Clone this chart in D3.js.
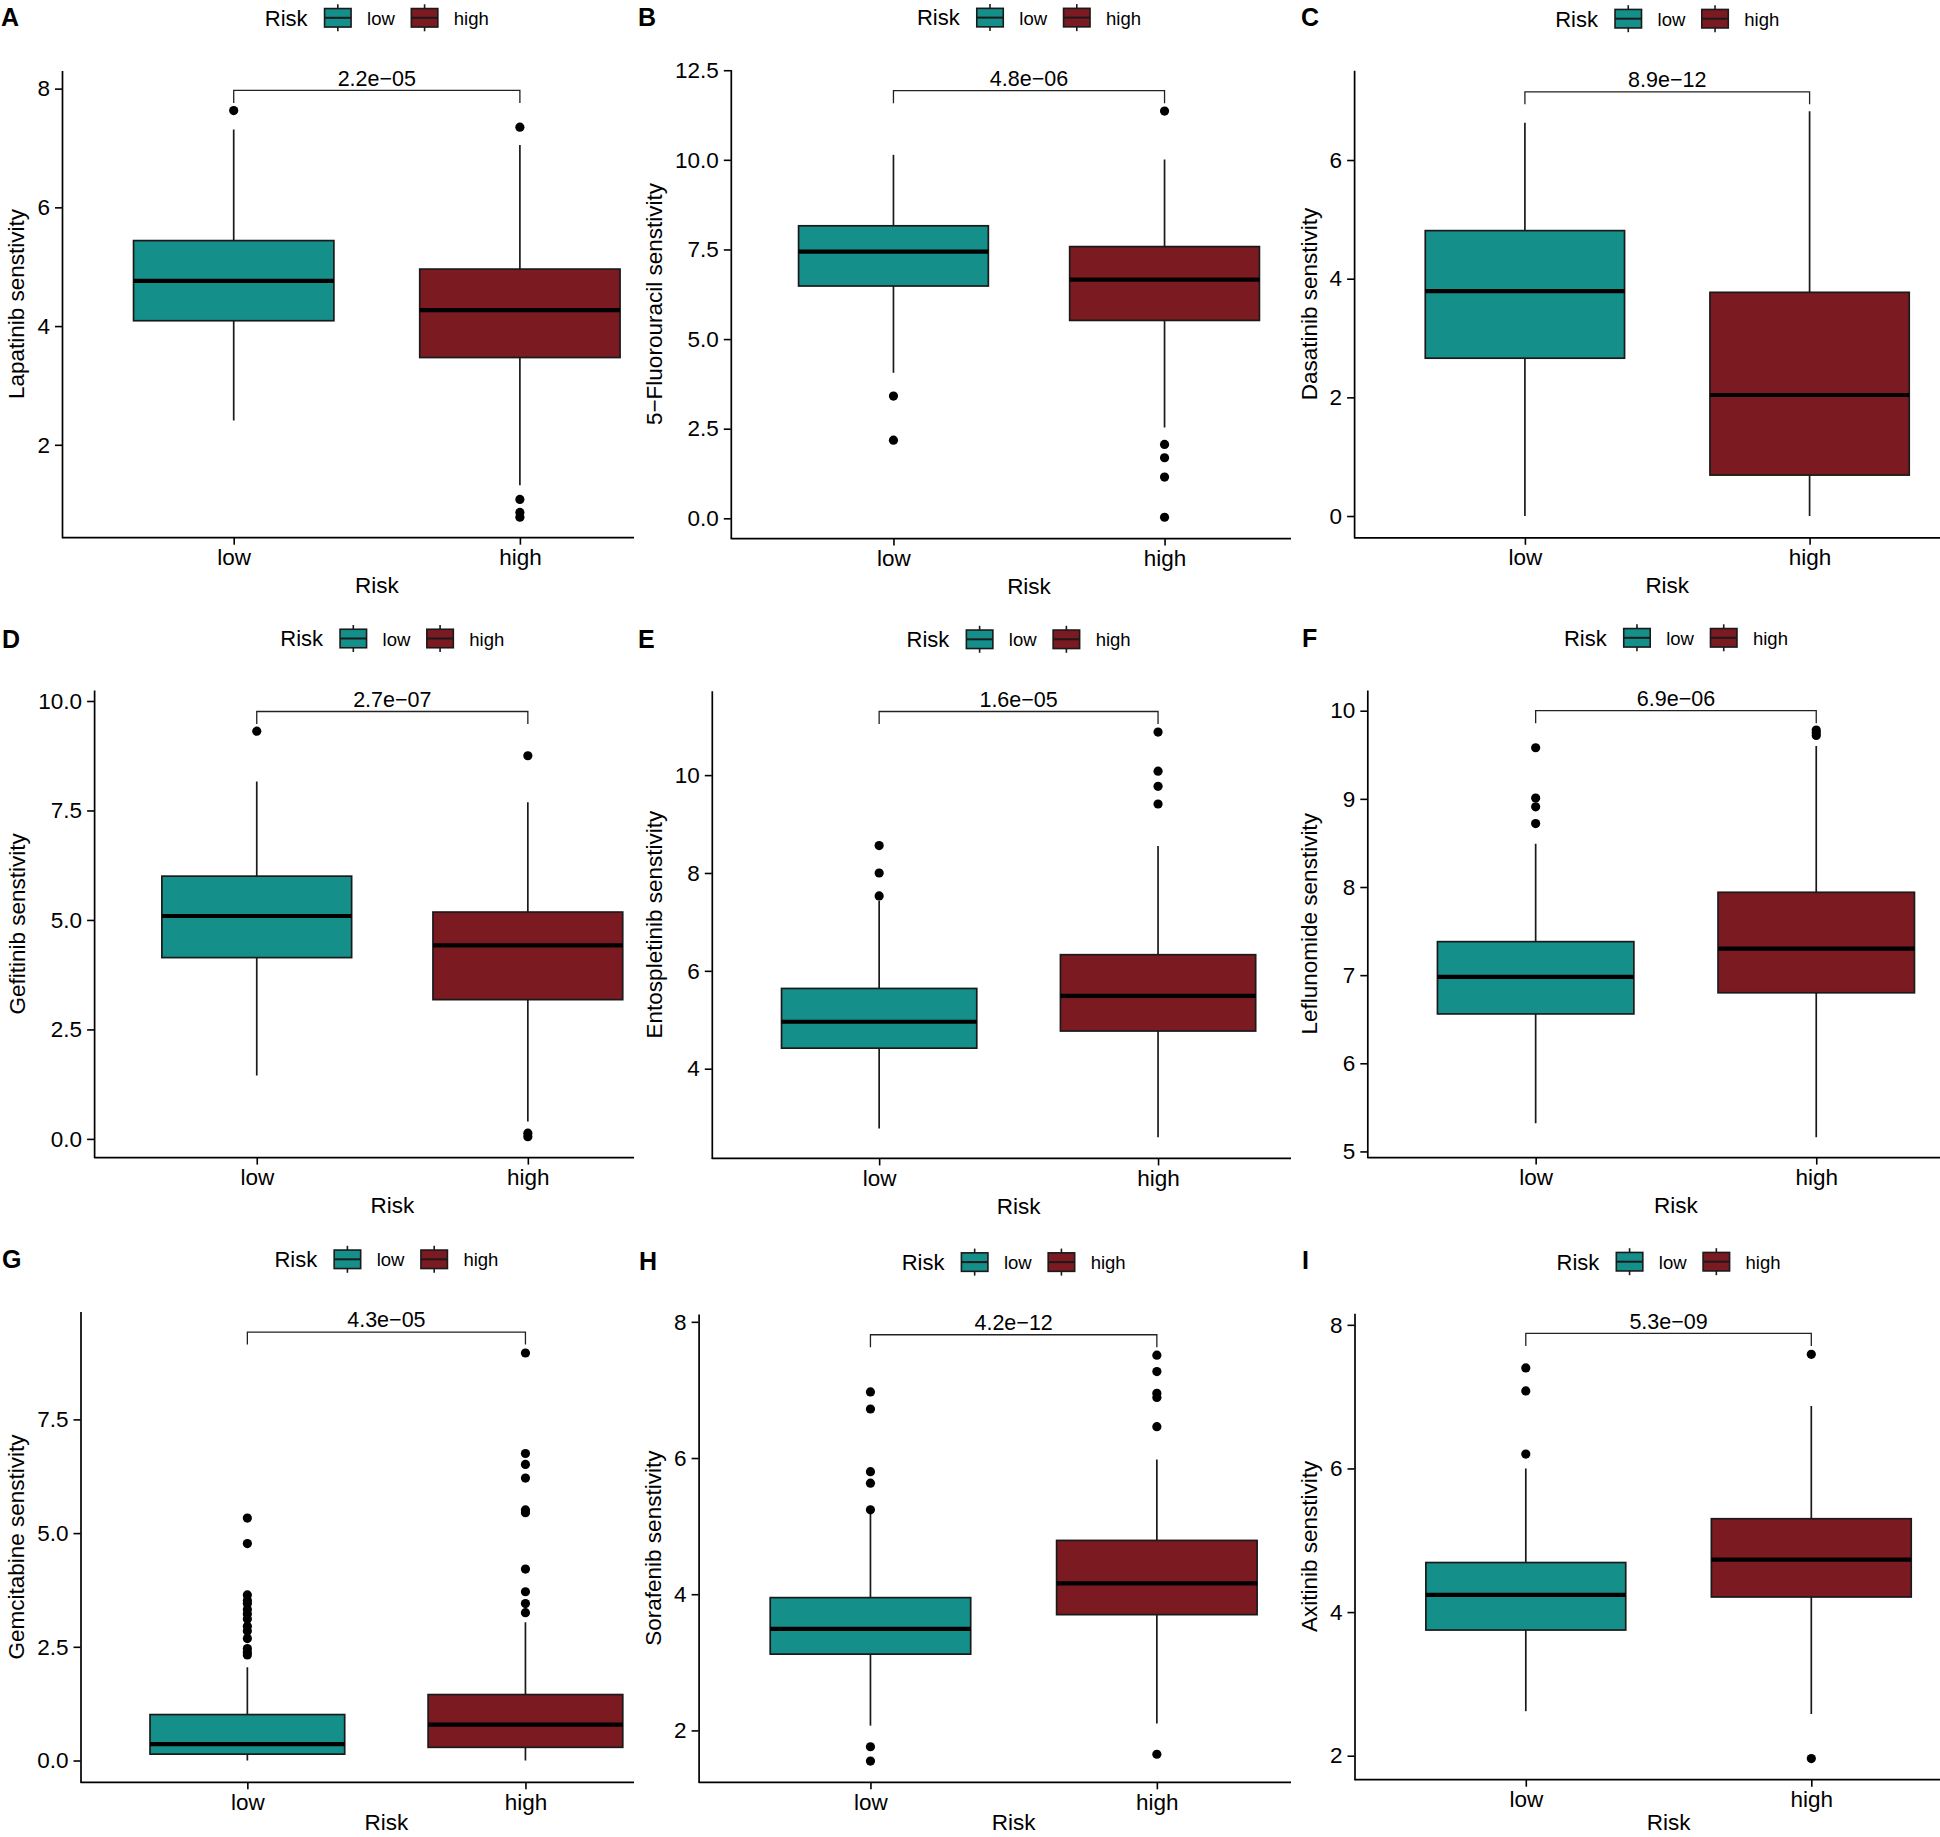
<!DOCTYPE html>
<html>
<head>
<meta charset="utf-8">
<script src="https://cdn.jsdelivr.net/npm/d3@7"></script>
<style>
  html, body { margin: 0; padding: 0; background: #fff; }
  svg { display: block; }
  text { font-family: "Liberation Sans", Arial, Helvetica, sans-serif; fill: #000; }
</style>
</head>
<body>
<svg id="chart" width="1940" height="1837"></svg>
<script>
// ---------------- DATA ----------------
const panelLetters = ["A", "B", "C", "D", "E", "F", "G", "H", "I"];
const drugs = ["Lapatinib", "5\u2212Fluorouracil", "Dasatinib", "Gefitinib", "Entospletinib",
               "Leflunomide", "Gemcitabine", "Sorafenib", "Axitinib"];
const pValues = ["2.2e\u221205", "4.8e\u221206", "8.9e\u221212", "2.7e\u221207", "1.6e\u221205",
                 "6.9e\u221206", "4.3e\u221205", "4.2e\u221212", "5.3e\u221209"];
const groups = ["low", "high"];
const groupColors = ["#148F8A", "#7C1A22"];

// [lower whisker, Q1, median, Q3, upper whisker]
const lowBox = [
  [2.41, 4.09, 4.76, 5.44, 7.31],
  [4.06, 6.48, 7.44, 8.16, 10.14],
  [0.00, 2.66, 3.79, 4.81, 6.63],
  [1.45, 4.14, 5.09, 6.00, 8.16],
  [2.78, 4.42, 4.96, 5.64, 7.43],
  [5.32, 6.56, 6.98, 7.38, 8.49],
  [0.00, 0.14, 0.36, 1.01, 2.05],
  [2.07, 3.12, 3.49, 3.95, 5.20],
  [2.62, 3.75, 4.24, 4.69, 6.00]
];
const highBox = [
  [1.32, 3.47, 4.27, 4.96, 7.05],
  [2.53, 5.52, 6.66, 7.58, 10.01],
  [0.00, 0.69, 2.04, 3.77, 6.82],
  [0.40, 3.18, 4.42, 5.18, 7.69],
  [2.60, 4.77, 5.49, 6.33, 8.55],
  [5.16, 6.80, 7.30, 7.94, 9.60],
  [0.00, 0.29, 0.79, 1.45, 3.04],
  [2.10, 3.70, 4.16, 4.79, 5.98],
  [2.58, 4.21, 4.73, 5.30, 6.87]
];
const lowOutliers = [
  [7.63],
  [3.41, 2.18],
  [],
  [9.31],
  [8.56, 8.00, 7.53],
  [9.58, 9.01, 8.91, 8.72],
  [5.33, 4.77, 3.64, 3.52, 3.45, 3.32, 3.22, 3.11, 2.95, 2.85, 2.68, 2.46, 2.38, 2.32],
  [6.97, 6.72, 5.80, 5.63, 5.24, 1.76, 1.55],
  [7.40, 7.08, 6.20]
];
const highOutliers = [
  [7.35, 1.08, 0.86, 0.78],
  [11.36, 2.06, 1.69, 1.15, 0.03],
  [],
  [8.75, 0.13, 0.05],
  [10.88, 10.08, 9.77, 9.41],
  [9.78, 9.75, 9.72],
  [8.96, 6.75, 6.51, 6.21, 5.51, 5.45, 4.21, 3.71, 3.45, 3.25],
  [7.51, 7.27, 6.95, 6.89, 6.46, 1.65],
  [7.59, 1.96]
];
const bracketValues = [7.97, 11.93, 7.15, 9.76, 11.30, 10.00, 9.42, 7.81, 7.88];
const yDomains = [
  [0.435, 8.307], [-0.566, 12.52], [-0.367, 7.512],
  [-0.427, 10.251], [2.167, 11.723], [4.93, 10.235],
  [-0.479, 9.870], [1.238, 8.115], [1.666, 8.162]
];
const yTicks = [
  [2, 4, 6, 8], [0, 2.5, 5, 7.5, 10, 12.5], [0, 2, 4, 6],
  [0, 2.5, 5, 7.5, 10], [4, 6, 8, 10], [5, 6, 7, 8, 9, 10],
  [0, 2.5, 5, 7.5], [2, 4, 6, 8], [2, 4, 6, 8]
];
const yTickLabels = [
  ["2", "4", "6", "8"], ["0.0", "2.5", "5.0", "7.5", "10.0", "12.5"], ["0", "2", "4", "6"],
  ["0.0", "2.5", "5.0", "7.5", "10.0"], ["4", "6", "8", "10"], ["5", "6", "7", "8", "9", "10"],
  ["0.0", "2.5", "5.0", "7.5"], ["2", "4", "6", "8"], ["2", "4", "6", "8"]
];

// ---------------- LAYOUT (pixels) ----------------
const layout = [
  {left: 62.0,   width: 629.6, cut: 634,  top: 70.4,   bottom: 537.7,  legendY: 17.8,   letterX: 1,    letterY: 26},
  {left: 730.8,  width: 596.4, cut: 1291, top: 69.5,   bottom: 538.6,  legendY: 17.6,   letterX: 638,  letterY: 26},
  {left: 1354.1, width: 626.3, cut: 1940, top: 70.3,   bottom: 537.8,  legendY: 18.7,   letterX: 1301, letterY: 26},
  {left: 94.1,   width: 596.4, cut: 634,  top: 690.0,  bottom: 1157.6, legendY: 638.5,  letterX: 2,    letterY: 648},
  {left: 711.8,  width: 613.6, cut: 1291, top: 690.8,  bottom: 1158.4, legendY: 639.3,  letterX: 638,  letterY: 648},
  {left: 1367.3, width: 617.3, cut: 1940, top: 690.0,  bottom: 1157.6, legendY: 637.8,  letterX: 1302, letterY: 647},
  {left: 80.5,   width: 611.8, cut: 634,  top: 1311.6, bottom: 1782.3, legendY: 1259.3, letterX: 2,    letterY: 1268},
  {left: 698.6,  width: 630.1, cut: 1291, top: 1314.0, bottom: 1782.3, legendY: 1262.1, letterX: 639,  letterY: 1270},
  {left: 1354.5, width: 628.1, cut: 1940, top: 1313.2, bottom: 1779.7, legendY: 1261.7, letterX: 1302, letterY: 1269}
];

const svg = d3.select("#chart");
const FS_AXIS = 22.5, FS_LEG_TITLE = 22, FS_LEG = 18.5, FS_P = 21.5;
const STROKE = "#1a1a1a";
const H = 1837;

panelLetters.forEach((letter, i) => {
  const L = layout[i];
  const g = svg.append("g");

  const x = d3.scaleLinear().domain([0.4, 2.6]).range([L.left, L.left + L.width]);
  const y = d3.scaleLinear().domain(yDomains[i]).range([L.bottom, L.top]);
  const xMid = (x(1) + x(2)) / 2;

  g.append("text").attr("x", L.letterX).attr("y", L.letterY)
    .style("font-size", "25px").style("font-weight", "bold").text(letter);

  const ya = g.append("g").attr("transform", `translate(${L.left},0)`)
    .call(d3.axisLeft(y).tickValues(yTicks[i]).tickFormat((d, j) => yTickLabels[i][j])
      .tickSize(7).tickPadding(5).tickSizeOuter(0));
  ya.select(".domain").attr("stroke", "#000").attr("stroke-width", 1.7);
  ya.selectAll(".tick line").attr("stroke", "#000").attr("stroke-width", 1.6);
  ya.selectAll(".tick text").style("font-size", FS_AXIS + "px").attr("fill", "#000");

  const xa = g.append("g").attr("transform", `translate(0,${L.bottom})`)
    .call(d3.axisBottom(x).tickValues([1, 2]).tickFormat(d => groups[d - 1])
      .tickSize(7).tickPadding(4.5).tickSizeOuter(0));
  xa.select(".domain").remove();
  xa.selectAll(".tick line").attr("stroke", "#000").attr("stroke-width", 1.6);
  xa.selectAll(".tick text").style("font-size", FS_AXIS + "px").attr("fill", "#000");
  g.append("line").attr("x1", L.left).attr("x2", L.cut)
    .attr("y1", L.bottom).attr("y2", L.bottom)
    .attr("stroke", "#000").attr("stroke-width", 1.7);

  g.append("text").attr("x", xMid).attr("y", Math.min(L.bottom + 55.5, H - 7))
    .attr("text-anchor", "middle").style("font-size", FS_AXIS + "px").text("Risk");
  const tickW = d3.max(ya.selectAll(".tick text").nodes(), n => n.getComputedTextLength());
  const titleX = L.left - 12 - tickW - 13;
  g.append("text")
    .attr("transform", `translate(${titleX},${(L.top + L.bottom) / 2}) rotate(-90)`)
    .attr("text-anchor", "middle").style("font-size", FS_AXIS + "px")
    .text(drugs[i] + " senstivity");

  const boxes = [lowBox[i], highBox[i]];
  const outs = [lowOutliers[i], highOutliers[i]];
  boxes.forEach((s, k) => {
    const pos = k + 1;
    const xc = x(pos);
    g.append("line").attr("x1", xc).attr("x2", xc)
      .attr("y1", y(s[0])).attr("y2", y(s[4]))
      .attr("stroke", STROKE).attr("stroke-width", 1.7);
    g.append("rect")
      .attr("x", x(pos - 0.35)).attr("width", x(pos + 0.35) - x(pos - 0.35))
      .attr("y", y(s[3])).attr("height", y(s[1]) - y(s[3]))
      .attr("fill", groupColors[k]).attr("stroke", STROKE).attr("stroke-width", 1.7);
    g.append("line").attr("x1", x(pos - 0.35)).attr("x2", x(pos + 0.35))
      .attr("y1", y(s[2])).attr("y2", y(s[2]))
      .attr("stroke", "#000").attr("stroke-width", 4.2);
    g.selectAll(null).data(outs[k]).enter().append("circle")
      .attr("cx", xc).attr("cy", d => y(d)).attr("r", 4.6).attr("fill", "#000");
  });

  const by = y(bracketValues[i]);
  g.append("path")
    .attr("d", `M${x(1)},${by + 12.5}V${by}H${x(2)}V${by + 12.5}`)
    .attr("fill", "none").attr("stroke", "#222").attr("stroke-width", 1.3);
  g.append("text").attr("x", xMid).attr("y", by - 4.6)
    .attr("text-anchor", "middle").style("font-size", FS_P + "px").text(pValues[i]);

  const lg = g.append("g");
  const ly = L.legendY;
  const keyW = 26.5, keyH = 18.5;
  const tTitle = lg.append("text").attr("y", ly + 7.8).style("font-size", FS_LEG_TITLE + "px").text("Risk");
  const items = groups.map((gr, k) => {
    const key = lg.append("g");
    key.append("line").attr("x1", keyW / 2).attr("x2", keyW / 2)
      .attr("y1", ly - 13.5).attr("y2", ly + 13.5)
      .attr("stroke", STROKE).attr("stroke-width", 1.6);
    key.append("rect").attr("y", ly - keyH / 2).attr("width", keyW).attr("height", keyH)
      .attr("fill", groupColors[k]).attr("stroke", STROKE).attr("stroke-width", 1.6);
    key.append("line").attr("x1", 0).attr("x2", keyW).attr("y1", ly).attr("y2", ly)
      .attr("stroke", STROKE).attr("stroke-width", 2);
    const t = lg.append("text").attr("y", ly + 7).style("font-size", FS_LEG + "px").text(gr);
    return {key, t};
  });
  const wTitle = tTitle.node().getComputedTextLength();
  const wItems = items.map(it => it.t.node().getComputedTextLength());
  const gapTK = 17, gapKT = 16, gapTK2 = 16.5;
  const total = wTitle + gapTK + keyW + gapKT + wItems[0] + gapTK2 + keyW + gapKT + wItems[1];
  let cx = xMid - total / 2;
  tTitle.attr("x", cx); cx += wTitle + gapTK;
  items.forEach((it, k) => {
    it.key.attr("transform", `translate(${cx},0)`); cx += keyW + gapKT;
    it.t.attr("x", cx); cx += wItems[k] + gapTK2;
  });
});
</script>
</body>
</html>
